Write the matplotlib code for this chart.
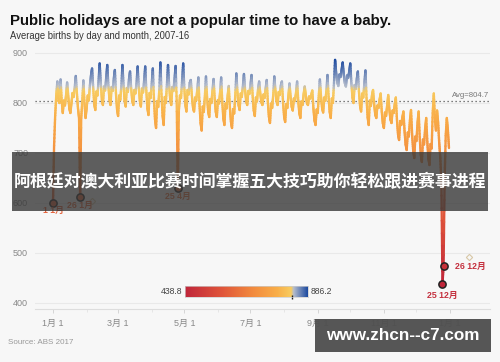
import numpy as np
import matplotlib
matplotlib.use('Agg')
import matplotlib.pyplot as plt
from matplotlib.collections import LineCollection
from matplotlib.colors import LinearSegmentedColormap, Normalize
from matplotlib.patches import Rectangle

plt.rcParams['font.family'] = ['Liberation Sans', 'Noto Sans CJK SC', 'DejaVu Sans']

# ---------------- data (average births per calendar day, leap-year calendar) ----------------
jan = [601, 715, 775, 815, 843, 805, 800, 847, 805, 780, 805, 795, 815, 841, 815, 790,
       780, 800, 820, 812, 830, 854, 820, 790, 770, 612, 770, 805, 845, 800, 770]
feb = [790, 815, 805, 835, 855, 869, 832, 798, 786, 823, 815, 845, 879, 841, 808, 796,
       833, 825, 850, 876, 836, 808, 796, 832, 824, 848, 866, 820, 788]
mar = [774, 815, 806, 834, 876, 835, 805, 793, 830, 822, 847, 863, 830, 806, 796, 826,
       819, 840, 873, 833, 805, 793, 829, 821, 845, 873, 825, 790, 776, 820, 810]
apr = [839, 869, 810, 768, 750, 804, 792, 827, 881, 818, 775, 756, 812, 800, 837, 876,
       836, 808, 796, 832, 824, 848, 874, 805, 630, 785, 815, 810, 845, 879]
may = [831, 797, 783, 826, 817, 840, 846, 815, 792, 783, 811, 805, 827, 851, 798, 761,
       745, 793, 782, 814, 853, 812, 784, 772, 808, 800, 825, 848, 810, 783, 772]
jun = [806, 799, 821, 851, 803, 770, 756, 799, 789, 815, 834, 792, 763, 750, 788, 779,
       815, 859, 822, 797, 786, 819, 812, 833, 858, 827, 805, 796, 824, 818]
jul = [836, 856, 815, 786, 774, 811, 803, 827, 843, 820, 803, 796, 817, 810, 829, 846,
       803, 773, 760, 799, 790, 816, 853, 825, 805, 796, 822, 816, 835, 843, 803]
aug = [774, 762, 798, 790, 815, 839, 812, 793, 785, 809, 804, 820, 843, 806, 781, 770,
       803, 796, 817, 833, 815, 801, 796, 813, 809, 815, 825, 790, 766, 756, 787]
sep = [780, 815, 847, 814, 791, 781, 811, 804, 824, 856, 813, 783, 770, 809, 800, 840,
       886.2, 860, 842, 834, 857, 852, 866, 881, 857, 840, 833, 855, 850, 862]
oct_ = [879, 840, 812, 800, 836, 828, 848, 863, 823, 795, 783, 819, 811, 840, 865, 810,
        772, 756, 805, 794, 815, 826, 798, 778, 770, 795, 790, 806, 819, 784, 760]
nov = [750, 781, 774, 795, 816, 788, 768, 760, 785, 780, 797, 811, 768, 738, 726, 764,
       756, 770, 783, 745, 718, 706, 741, 733, 765, 786, 738, 705, 690, 733]
dec = [724, 760, 783, 732, 697, 682, 727, 717, 748, 770, 723, 690, 676, 718, 709, 780,
       819, 770, 745, 785, 760, 720, 690, 640, 438.8, 474, 650, 735, 770, 745, 710]

births = np.array(jan + feb + mar + apr + may + jun + jul + aug + sep + oct_ + nov + dec, dtype=float)
days = np.arange(len(births))

avg_value = 804.7
cbar_min, cbar_max = 438.8, 886.2
cbar_marker = 829.0

month_start_days = [0, 31, 60, 91, 121, 152, 182, 213, 244, 274, 305, 335, 366]
tick_days = [0, 60, 121, 182, 244, 305, 366]
tick_labels = ['1月 1', '3月 1', '5月 1', '7月 1', '9月 1', '11月 1', '1月 1']
yticks = [400, 500, 600, 700, 800, 900]

holiday_days = [0, 25, 115, 359, 360]
holiday_labels = ['1 1月', '26 1月', '25 4月', '25 12月', '26 12月']
ghost_days = [36, 383]
ghost_values = [604, 492]

# ---------------- figure ----------------
W, H = 500, 362
BG = '#f7f7f7'
fig = plt.figure(figsize=(W / 100, H / 100), dpi=100, facecolor=BG)
fx = lambda px: px / W
fy = lambda py: 1 - py / H

ax = fig.add_axes([fx(35), fy(309), fx(490) - fx(35), fy(45) - fy(309)])
ax.set_facecolor(BG)
ax.set_xlim(-16.6, 402.8)
ax.set_ylim(388, 916)

cmap = LinearSegmentedColormap.from_list('births', [
    (0.00, '#c0263a'), (0.30, '#e0553a'), (0.55, '#f28a3e'), (0.75, '#f9ae48'),
    (0.865, '#f8cc60'), (0.885, '#b4bccc'), (1.00, '#1c4aa0')])
norm = Normalize(cbar_min, cbar_max)

# gradient line (each daily segment split into small pieces for a smooth vertical gradient)
nsub = 8
segs, cols = [], []
for i in range(len(days) - 1):
    t = np.linspace(0, 1, nsub + 1)
    xs = days[i] + (days[i + 1] - days[i]) * t
    ys = births[i] + (births[i + 1] - births[i]) * t
    for k in range(nsub):
        segs.append([(xs[k], ys[k]), (xs[k + 1], ys[k + 1])])
        cols.append(cmap(norm((ys[k] + ys[k + 1]) / 2)))
lc = LineCollection(segs, colors=cols, linewidths=1.7, capstyle='round', joinstyle='round', zorder=3)
ax.add_collection(lc)

# average line
ax.axhline(avg_value, color='#555555', lw=0.9, ls=(0, (1, 2.2)), zorder=2)
ax.text(402, avg_value + 4, 'Avg=804.7', ha='right', va='bottom', fontsize=5.6, color='#777777', zorder=4)

# holiday markers
for d, lab in zip(holiday_days, holiday_labels):
    v = births[d]
    c = cmap(norm(v))
    ax.plot(d, v, 'o', ms=5.2, mfc=c, mec='#222222', mew=1.1, zorder=5)
    tc = '#c4303e' if v < 500 else cmap(norm(v))
    if lab == '26 12月':
        ax.annotate(lab, (d, v), xytext=(8, 0), textcoords='offset points', ha='left', va='center',
                    fontsize=6.3, color=tc, fontweight='bold', zorder=5)
    else:
        off = -8.5 if v < 500 else -6
        ax.annotate(lab, (d, v), xytext=(0, off), textcoords='offset points', ha='center', va='center',
                    fontsize=6.3, color=tc, fontweight='bold', zorder=5)
ax.plot(ghost_days, ghost_values, 'D', ms=3.2, mfc='none', mec='#d8c8a8', mew=0.8, zorder=4, clip_on=False)

# axes styling
for s in ['top', 'right', 'left']:
    ax.spines[s].set_visible(False)
ax.spines['bottom'].set_color('#dddddd')
ax.spines['bottom'].set_linewidth(0.8)
ax.set_yticks(yticks)
ax.set_yticklabels([str(v) for v in yticks])
ax.tick_params(axis='y', length=0, pad=5, labelsize=6.5, labelcolor='#888888')
ax.grid(axis='y', color='#e9e9e9', lw=0.8, zorder=0)
ax.set_xticks(tick_days)
ax.set_xticklabels(tick_labels)
ax.set_xticks(month_start_days, minor=True)
ax.tick_params(axis='x', which='major', length=3, width=0.6, color='#d0d0d0', pad=4,
               labelsize=6.5, labelcolor='#888888')
ax.tick_params(axis='x', which='minor', length=2, width=0.5, color='#e0e0e0')

# colour scale bar
cax = fig.add_axes([fx(185), fy(297), fx(308) - fx(185), fy(286) - fy(297)])
cax.imshow(np.linspace(0, 1, 256)[None, :], aspect='auto', cmap=cmap,
           extent=[cbar_min, cbar_max, 0, 1])
cax.set_xlim(cbar_min, cbar_max)
cax.set_xticks([]); cax.set_yticks([])
for s in cax.spines.values():
    s.set_color('#cccccc'); s.set_linewidth(0.5)
cax.plot([cbar_marker], [0.02], marker='|', ms=3, color='#222222', mew=1.0, clip_on=False)
fig.text(fx(182.5), fy(291.5), f'{cbar_min:.1f}', ha='right', va='center', fontsize=6.2, color='#444444')
fig.text(fx(311), fy(291.5), f'{cbar_max:.1f}', ha='left', va='center', fontsize=6.2, color='#444444')

# titles
fig.text(fx(10), fy(21), 'Public holidays are not a popular time to have a baby.', ha='left', va='center',
         fontsize=10.8, fontweight='bold', color='#111111')
fig.text(fx(10), fy(36), 'Average births by day and month, 2007-16', ha='left', va='center',
         fontsize=6.85, color='#333333')
fig.text(fx(8), fy(342), 'Source: ABS 2017', ha='left', va='center', fontsize=5.8, color='#999999')

# overlay banner and watermark
fig.add_artist(Rectangle((fx(12), fy(211)), fx(476), 59 / H, transform=fig.transFigure,
                         facecolor='#383838', alpha=0.8, edgecolor='none', zorder=10))
fig.text(fx(250), fy(182), '阿根廷对澳大利亚比赛时间掌握五大技巧助你轻松跟进赛事进程', ha='center', va='center',
         fontsize=12.2, fontweight='bold', color='white', family=['Noto Sans CJK SC', 'DejaVu Sans'], zorder=11)
fig.add_artist(Rectangle((fx(315), fy(352)), fx(176), 33 / H, transform=fig.transFigure,
                         facecolor='#4f4f4f', alpha=0.96, edgecolor='none', zorder=10))
fig.text(fx(403), fy(336), 'www.zhcn--c7.com', ha='center', va='center', fontsize=12.3,
         fontweight='bold', color='white', zorder=11)

fig.savefig('out.png', dpi=100, facecolor=BG)
